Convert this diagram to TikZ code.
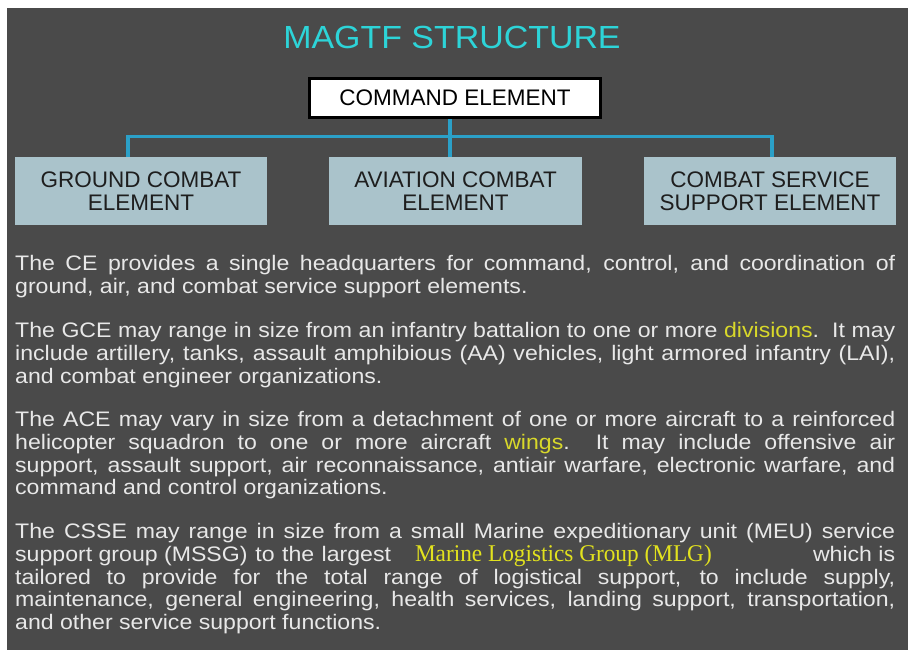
\documentclass[tikz,border=0pt]{standalone}
\usepackage{fontspec}
\setmainfont{Liberation Sans}
\newfontfamily\bodyfont{Liberation Sans}[FakeStretch=1.1]
\newfontfamily\titlefont{Liberation Sans}[FakeStretch=1.06]
\newfontfamily\mlgfont{Liberation Serif}[FakeStretch=0.97]
\definecolor{panelgray}{HTML}{4A4A4A}
\definecolor{titlecyan}{HTML}{2DD4D8}
\definecolor{connblue}{HTML}{2BA0C8}
\definecolor{boxfill}{HTML}{AAC3CB}
\definecolor{boxtext}{HTML}{1E1E1E}
\definecolor{bodytext}{HTML}{E8E8E8}
\definecolor{hiyellow}{HTML}{D8D82A}
\definecolor{mlgyellow}{HTML}{E2E21E}
\newcommand{\hiword}[1]{\textcolor{hiyellow}{#1}}
\newcommand{\jline}[1]{\hbox to 880pt{#1}}
\begin{document}
\begin{tikzpicture}[x=1pt,y=-1pt,
  bodyline/.style={anchor=base west, inner sep=0pt, text=bodytext,
    font=\bodyfont\fontsize{21}{23}\selectfont},
  elembox/.style={fill=boxfill, text=boxtext, minimum width=252pt, minimum height=68pt,
    inner sep=0pt, align=center, font=\fontsize{22.5}{23}\selectfont},
  cmdbox/.style={draw=black, line width=3pt, fill=white, text=black,
    minimum width=291pt, minimum height=39pt, inner sep=0pt,
    font=\fontsize{22.5}{24}\selectfont},
  conn/.style={draw=connblue, line width=3.2pt}]
\useasboundingbox (0,0) rectangle (909,650);
\fill[white] (0,0) rectangle (909,650);
\fill[panelgray] (7,8) rectangle (908,650);
% title
\node[anchor=base, inner sep=0pt, text=titlecyan, font=\titlefont\fontsize{32}{36}\selectfont]
  (title) at (452,48.5) {MAGTF STRUCTURE};
% boxes
\node[cmdbox] (cmd) at (455,98) {COMMAND ELEMENT};
\node[elembox] (gce) at (141,191) {GROUND COMBAT\\ELEMENT};
\node[elembox, minimum width=253pt] (ace) at (455.5,191) {AVIATION COMBAT\\ELEMENT};
\node[elembox] (csse) at (770,191) {COMBAT SERVICE\\SUPPORT ELEMENT};
% connectors
\draw[conn] ([xshift=-13pt]gce.north) -- ++(0,-20) -| ([xshift=2pt]csse.north);
\draw[conn] ([xshift=-5pt]cmd.south) -- ([xshift=-5.5pt]ace.north);
% paragraph 1
\node[bodyline] (p1a) at (15,270) {\jline{The CE provides a single headquarters for command, control, and coordination of}};
\node[bodyline] (p1b) at (15,293) {ground, air, and combat service support elements.};
% paragraph 2
\node[bodyline] (p2a) at (15,337) {\jline{The GCE may range in size from an infantry battalion to one or more \hiword{divisions}.\ \ It may}};
\node[bodyline] (p2b) at (15,360) {\jline{include artillery, tanks, assault amphibious (AA) vehicles, light armored infantry (LAI),}};
\node[bodyline] (p2c) at (15,383) {and combat engineer organizations.};
% paragraph 3
\node[bodyline] (p3a) at (15,426) {\jline{The ACE may vary in size from a detachment of one or more aircraft to a reinforced}};
\node[bodyline] (p3b) at (15,449) {\jline{helicopter squadron to one or more aircraft \hiword{wings}.\ \ It may include offensive air}};
\node[bodyline] (p3c) at (15,472) {\jline{support, assault support, air reconnaissance, antiair warfare, electronic warfare, and}};
\node[bodyline] (p3d) at (15,494) {command and control organizations.};
% paragraph 4
\node[bodyline] (p4a) at (15,538) {\jline{The CSSE may range in size from a small Marine expeditionary unit (MEU) service}};
\node[bodyline] (p4b) at (15,561) {\jline{support group (MSSG)\hspace{1.5pt} to\hspace{1pt} the\hspace{1pt} largest\hspace{24pt}{\mlgfont\fontsize{24}{23}\selectfont\color{mlgyellow}Marine Logistics Group (MLG)}\hfill which is}};
\node[bodyline] (p4c) at (15,584) {\jline{tailored to provide for the total range of logistical support, to include supply,}};
\node[bodyline] (p4d) at (15,606) {\jline{maintenance, general engineering, health services, landing support, transportation,}};
\node[bodyline] (p4e) at (15,629) {and other service support functions.};
\end{tikzpicture}
\end{document}
